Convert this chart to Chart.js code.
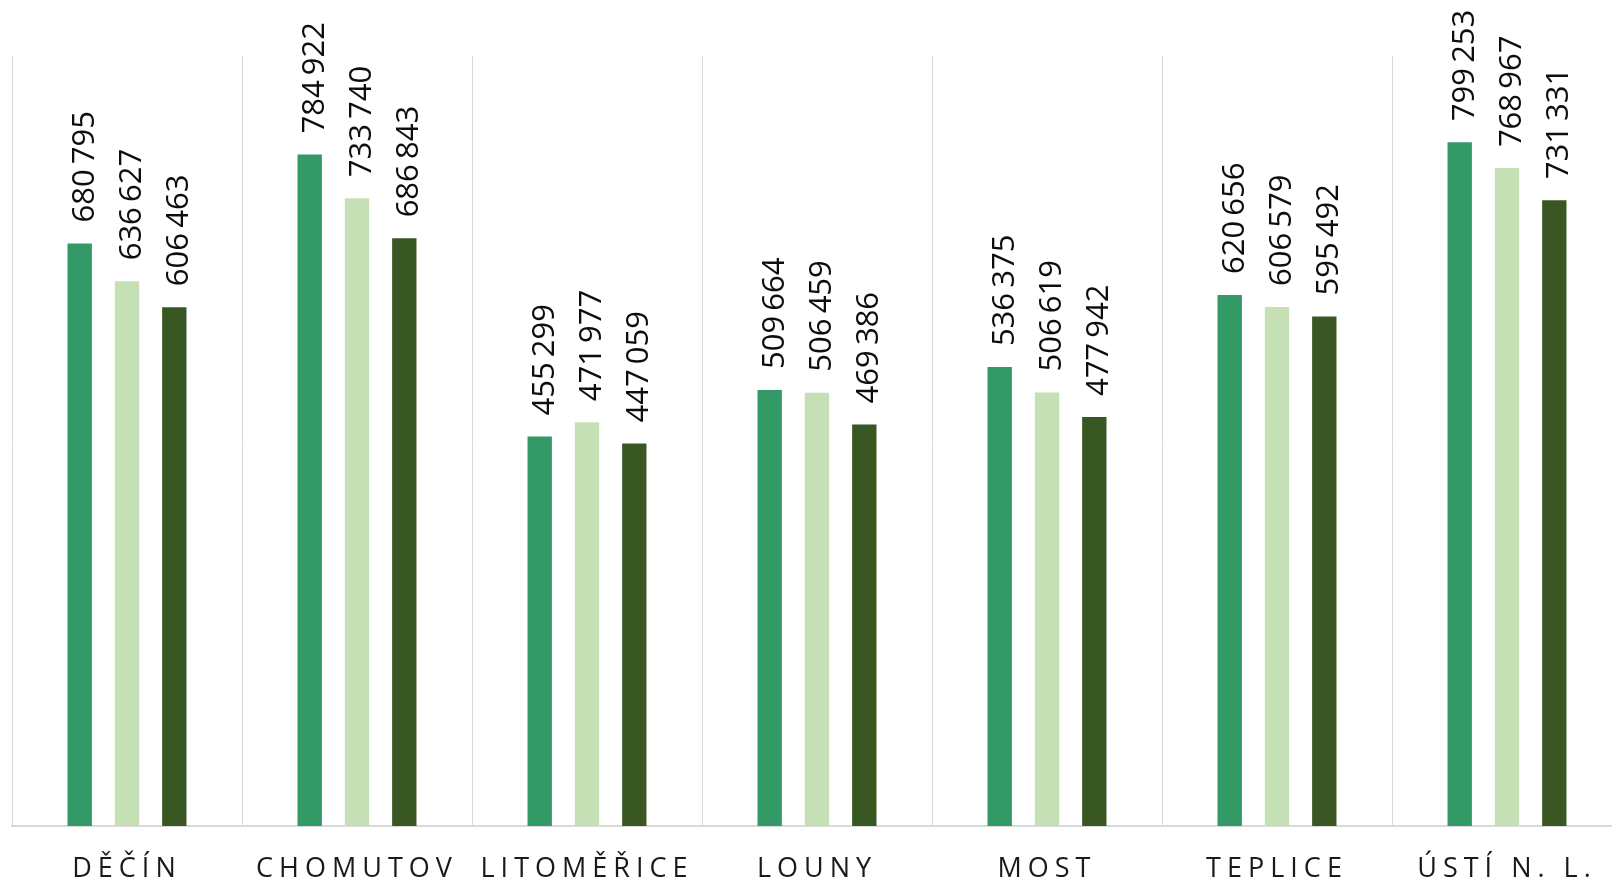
<!DOCTYPE html>
<html lang="cs">
<head>
<meta charset="utf-8">
<title>Okresy</title>
<script src="https://cdn.jsdelivr.net/npm/chart.js@4.4.1/dist/chart.umd.min.js"></script>
<style>
    html, body { margin: 0; padding: 0; background: #fff; overflow: hidden; }
    #chart { display: block; }
</style>
</head>
<body>
<canvas id="chart" width="1640" height="880"></canvas>
<script>
// Data z grafu
const categories = ['DĚČÍN', 'CHOMUTOV', 'LITOMĚŘICE', 'LOUNY', 'MOST', 'TEPLICE', 'ÚSTÍ N. L.'];
const series1 = [680795, 784922, 455299, 509664, 536375, 620656, 799253];
const series2 = [636627, 733740, 471977, 506459, 506619, 606579, 768967];
const series3 = [606463, 686843, 447059, 469386, 477942, 595492, 731331];
const seriesNames = ['Řada 1', 'Řada 2', 'Řada 3'];
const seriesColors = ['#339966', '#c5e0b4', '#385723'];
const yMax = 900000;

function formatNumber(v) {
    return String(v).replace(/\B(?=(\d{3})+(?!\d))/g, '\u2009');
}

// popisky hodnot otočené o 90°
const verticalLabels = {
    id: 'verticalLabels',
    afterDatasetsDraw(chart) {
        const { ctx } = chart;
        ctx.save();
        ctx.font = '31px "Open Sans", sans-serif';
        ctx.fillStyle = '#0d0d0d';
        ctx.textAlign = 'left';
        ctx.textBaseline = 'alphabetic';
        chart.data.datasets.forEach((ds, i) => {
            chart.getDatasetMeta(i).data.forEach((bar, j) => {
                ctx.save();
                ctx.translate(bar.x, bar.y - 21);
                ctx.rotate(-Math.PI / 2);
                ctx.fillText(formatNumber(ds.data[j]), 0, 14);
                ctx.restore();
            });
        });
        ctx.restore();
    }
};

// prostrkání písmen u popisků osy x
const tickSpacing = {
    id: 'tickSpacing',
    beforeDraw(chart) { chart.ctx.letterSpacing = '6px'; },
    beforeDatasetsDraw(chart) { chart.ctx.letterSpacing = '0px'; }
};

const datasets = [series1, series2, series3].map((data, i) => ({
    label: seriesNames[i],
    data,
    backgroundColor: seriesColors[i],
    categoryPercentage: 0.617,
    barPercentage: 0.515
}));

new Chart(document.getElementById('chart'), {
    type: 'bar',
    data: { labels: categories, datasets },
    options: {
        responsive: false,
        animation: false,
        layout: { padding: { left: 12, right: 18, top: 56, bottom: 0 } },
        plugins: { legend: { display: false }, tooltip: { enabled: false } },
        scales: {
            x: {
                afterFit(scale) { scale.height = 54; },
                grid: { offset: true, color: '#d9d9d9', lineWidth: 1, drawTicks: false },
                border: { color: '#d9d9d9', width: 2 },
                ticks: {
                    padding: 27,
                    color: '#1a1a1a',
                    font: { family: '"Open Sans", sans-serif', size: 27 }
                }
            },
            y: { display: false, min: 0, max: yMax }
        }
    },
    plugins: [verticalLabels, tickSpacing]
});
</script>
</body>
</html>
